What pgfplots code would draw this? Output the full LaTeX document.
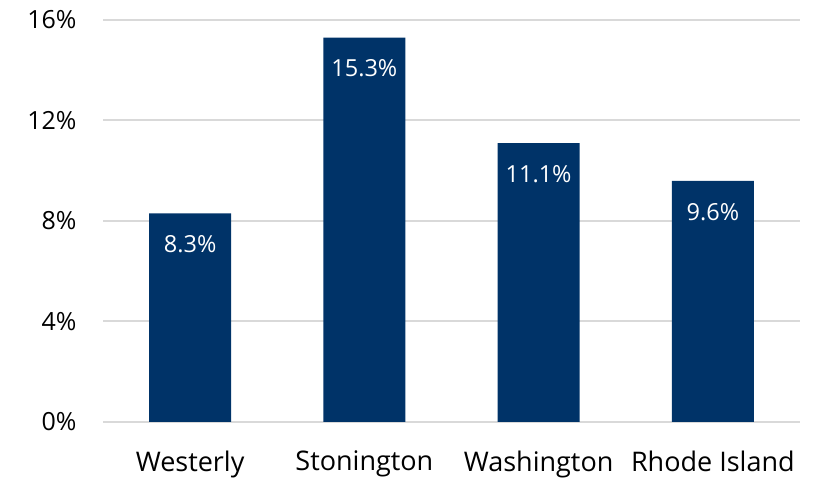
\documentclass[border=0pt]{standalone}
\usepackage{pgfplots}
\pgfplotsset{compat=1.18}
\usepackage{fontspec}
\setmainfont{Open Sans}
\definecolor{navy}{RGB}{0,51,104}
\definecolor{gridgray}{RGB}{217,217,217}
\begin{document}
\begin{tikzpicture}[x=1pt,y=1pt]
\clip (0,0) rectangle (815,479);
\begin{axis}[
  at={(103pt,57pt)}, anchor=south west,
  scale only axis, width=697pt, height=402pt,
  xmin=-0.5, xmax=3.5, ymin=0, ymax=16,
  ytick={0,4,8,12,16},
  xtick={0,1,2,3},
  xticklabels={Westerly,Stonington,Washington,Rhode Island},
  axis line style={draw=none},
  major tick length=0pt,
  ymajorgrids, grid style={gridgray, line width=2pt},
  /pgf/number format/assume math mode=true,
  yticklabel={\pgfmathprintnumber{\tick}\%},
  ticklabel style={text=black},
  yticklabel style={font=\fontsize{25}{30}\selectfont, xshift=-23pt},
  xticklabel style={font=\fontsize{27}{32}\selectfont, yshift=-25pt},
  nodes near coords={\pgfmathprintnumber[fixed, fixed zerofill, precision=1]{\pgfplotspointmeta}\%},
  every node near coord/.append style={font=\fontsize{23.5}{28}\selectfont, text=white, anchor=center, yshift=-31pt},
]
\addplot[ybar, bar width=82pt, fill=navy, draw=none, mark=none] coordinates {(0,8.3) (1,15.3) (2,11.1) (3,9.6)};
\end{axis}
\end{tikzpicture}
\end{document}
